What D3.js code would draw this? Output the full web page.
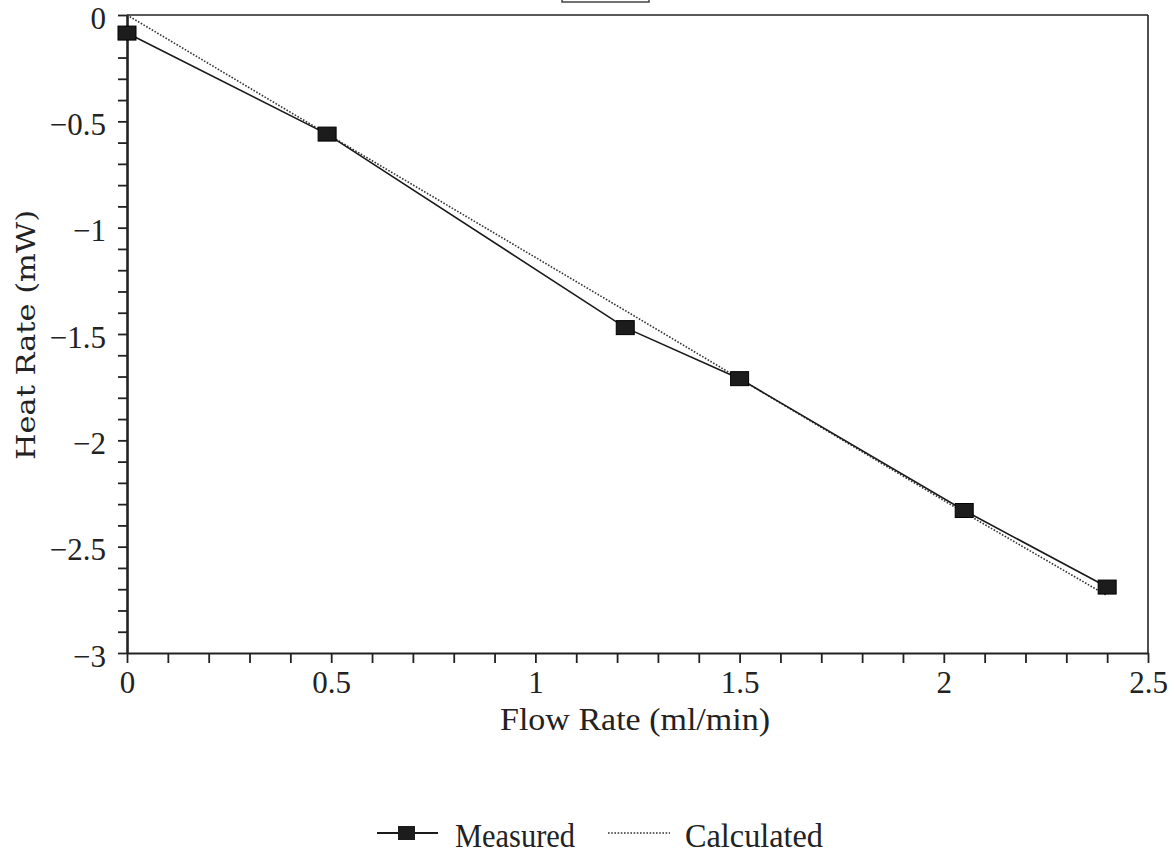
<!DOCTYPE html>
<html>
<head>
<meta charset="utf-8">
<script src="https://cdn.jsdelivr.net/npm/d3@7"></script>
<style>
  body { margin: 0; background: #fff; }
  svg { display: block; }
</style>
</head>
<body>
<div class="chart"></div>
<script>
// values
var flowRate   = [0, 0.49, 1.22, 1.5, 2.05, 2.4];
var measured   = [-0.085, -0.56, -1.47, -1.71, -2.33, -2.69];
var calculated = [0, -0.56, -1.39, -1.71, -2.34, -2.73];
var seriesNames = ["Measured", "Calculated"];

var width = 1175, height = 857;

var svg = d3.select(".chart")
	.append("svg")
	.attr("width", width)
	.attr("height", height);

var x = d3.scaleLinear().domain([0, 2.5]).range([127, 1148]);
var y = d3.scaleLinear().domain([-3, 0]).range([653, 15]);

var tickFont = "Liberation Serif, Times New Roman, serif";
var fmt = function(d) {
	var r = Math.round(d * 10) / 10;
	if (Math.abs(r * 2 - Math.round(r * 2)) > 1e-6) return "";
	return d3.format("")(r);
};

// ----------------------------------------------------------
// frame (top + right)
svg.append("line")
	.attr("x1", x(0)).attr("x2", x(2.5))
	.attr("y1", y(0)).attr("y2", y(0))
	.attr("stroke", "#222").attr("stroke-width", 1.6);
svg.append("line")
	.attr("x1", x(2.5)).attr("x2", x(2.5))
	.attr("y1", y(0)).attr("y2", y(-3))
	.attr("stroke", "#222").attr("stroke-width", 1.6);

// cut off box at the very top
svg.append("rect")
	.attr("x", 562).attr("y", -6)
	.attr("width", 87).attr("height", 8)
	.attr("fill", "none")
	.attr("stroke", "#444")
	.attr("stroke-width", 1.5);

// ----------------------------------------------------------
// axes
var xAxis = svg.append("g")
	.attr("transform", "translate(0," + y(-3) + ")")
	.call(d3.axisBottom(x)
		.tickValues(d3.range(0, 26).map(function(i){ return i / 10; }))
		.tickSize(10)
		.tickSizeOuter(0)
		.tickFormat(fmt));

xAxis.select(".domain").attr("stroke", "#222").attr("stroke-width", 2.2);
xAxis.selectAll(".tick line").attr("stroke", "#222").attr("stroke-width", 1.8);
xAxis.selectAll(".tick text")
	.attr("y", 40)
	.attr("dy", 0)
	.attr("fill", "#222")
	.attr("font-family", tickFont)
	.attr("font-size", 31);

var yAxis = svg.append("g")
	.attr("transform", "translate(" + x(0) + ",0)")
	.call(d3.axisLeft(y)
		.tickValues(d3.range(0, 31).map(function(i){ return -i / 10; }))
		.tickSize(9)
		.tickSizeOuter(0)
		.tickFormat(fmt));

yAxis.select(".domain").attr("stroke", "#222").attr("stroke-width", 2.6);
yAxis.selectAll(".tick line").attr("stroke", "#222").attr("stroke-width", 1.8);
yAxis.selectAll(".tick text")
	.attr("x", -21)
	.attr("dy", "0.42em")
	.attr("fill", "#222")
	.attr("font-family", tickFont)
	.attr("font-size", 31);

// axis titles
svg.append("text")
	.attr("x", 500)
	.attr("y", 730)
	.attr("textLength", 270)
	.attr("lengthAdjust", "spacingAndGlyphs")
	.attr("fill", "#222")
	.attr("font-family", tickFont)
	.attr("font-size", 32)
	.text("Flow Rate (ml/min)");

svg.append("text")
	.attr("transform", "translate(35,335) rotate(-90)")
	.attr("text-anchor", "middle")
	.attr("textLength", 250)
	.attr("lengthAdjust", "spacingAndGlyphs")
	.attr("fill", "#222")
	.attr("font-family", "DejaVu Serif, serif")
	.attr("font-size", 26)
	.text("Heat Rate (mW)");

// ----------------------------------------------------------
// series
var pts = flowRate.map(function(f, i){ return {x: f, m: measured[i], c: calculated[i]}; });

var lineM = d3.line().x(function(d){ return x(d.x); }).y(function(d){ return y(d.m); });
var lineC = d3.line().x(function(d){ return x(d.x); }).y(function(d){ return y(d.c); });

svg.append("path")
	.datum(pts)
	.attr("d", lineC)
	.attr("fill", "none")
	.attr("stroke", "#333")
	.attr("stroke-width", 1.6)
	.attr("stroke-dasharray", "1.6,1.6");

svg.append("path")
	.datum(pts)
	.attr("d", lineM)
	.attr("fill", "none")
	.attr("stroke", "#1a1a1a")
	.attr("stroke-width", 1.6);

svg.selectAll(".marker")
	.data(pts)
	.enter().append("rect")
	.attr("class", "marker")
	.attr("x", function(d){ return x(d.x) - 9; })
	.attr("y", function(d){ return y(d.m) - 7; })
	.attr("width", 18)
	.attr("height", 14)
	.attr("fill", "#1c1c1c")
	.attr("stroke", "#000")
	.attr("stroke-width", 1);

// ----------------------------------------------------------
// legend
var legY = 833;

svg.append("line")
	.attr("x1", 377).attr("x2", 438)
	.attr("y1", legY).attr("y2", legY)
	.attr("stroke", "#1a1a1a").attr("stroke-width", 1.8);
svg.append("rect")
	.attr("x", 398).attr("y", legY - 7)
	.attr("width", 17).attr("height", 14)
	.attr("fill", "#1c1c1c");
svg.append("text")
	.attr("x", 455).attr("y", 847)
	.attr("textLength", 120)
	.attr("lengthAdjust", "spacingAndGlyphs")
	.attr("fill", "#222")
	.attr("font-family", tickFont)
	.attr("font-size", 33)
	.text(seriesNames[0]);

svg.append("line")
	.attr("x1", 608).attr("x2", 670)
	.attr("y1", legY).attr("y2", legY)
	.attr("stroke", "#333").attr("stroke-width", 1.6)
	.attr("stroke-dasharray", "1.6,1.6");
svg.append("text")
	.attr("x", 685).attr("y", 847)
	.attr("textLength", 138)
	.attr("lengthAdjust", "spacingAndGlyphs")
	.attr("fill", "#222")
	.attr("font-family", tickFont)
	.attr("font-size", 33)
	.text(seriesNames[1]);
</script>
</body>
</html>
